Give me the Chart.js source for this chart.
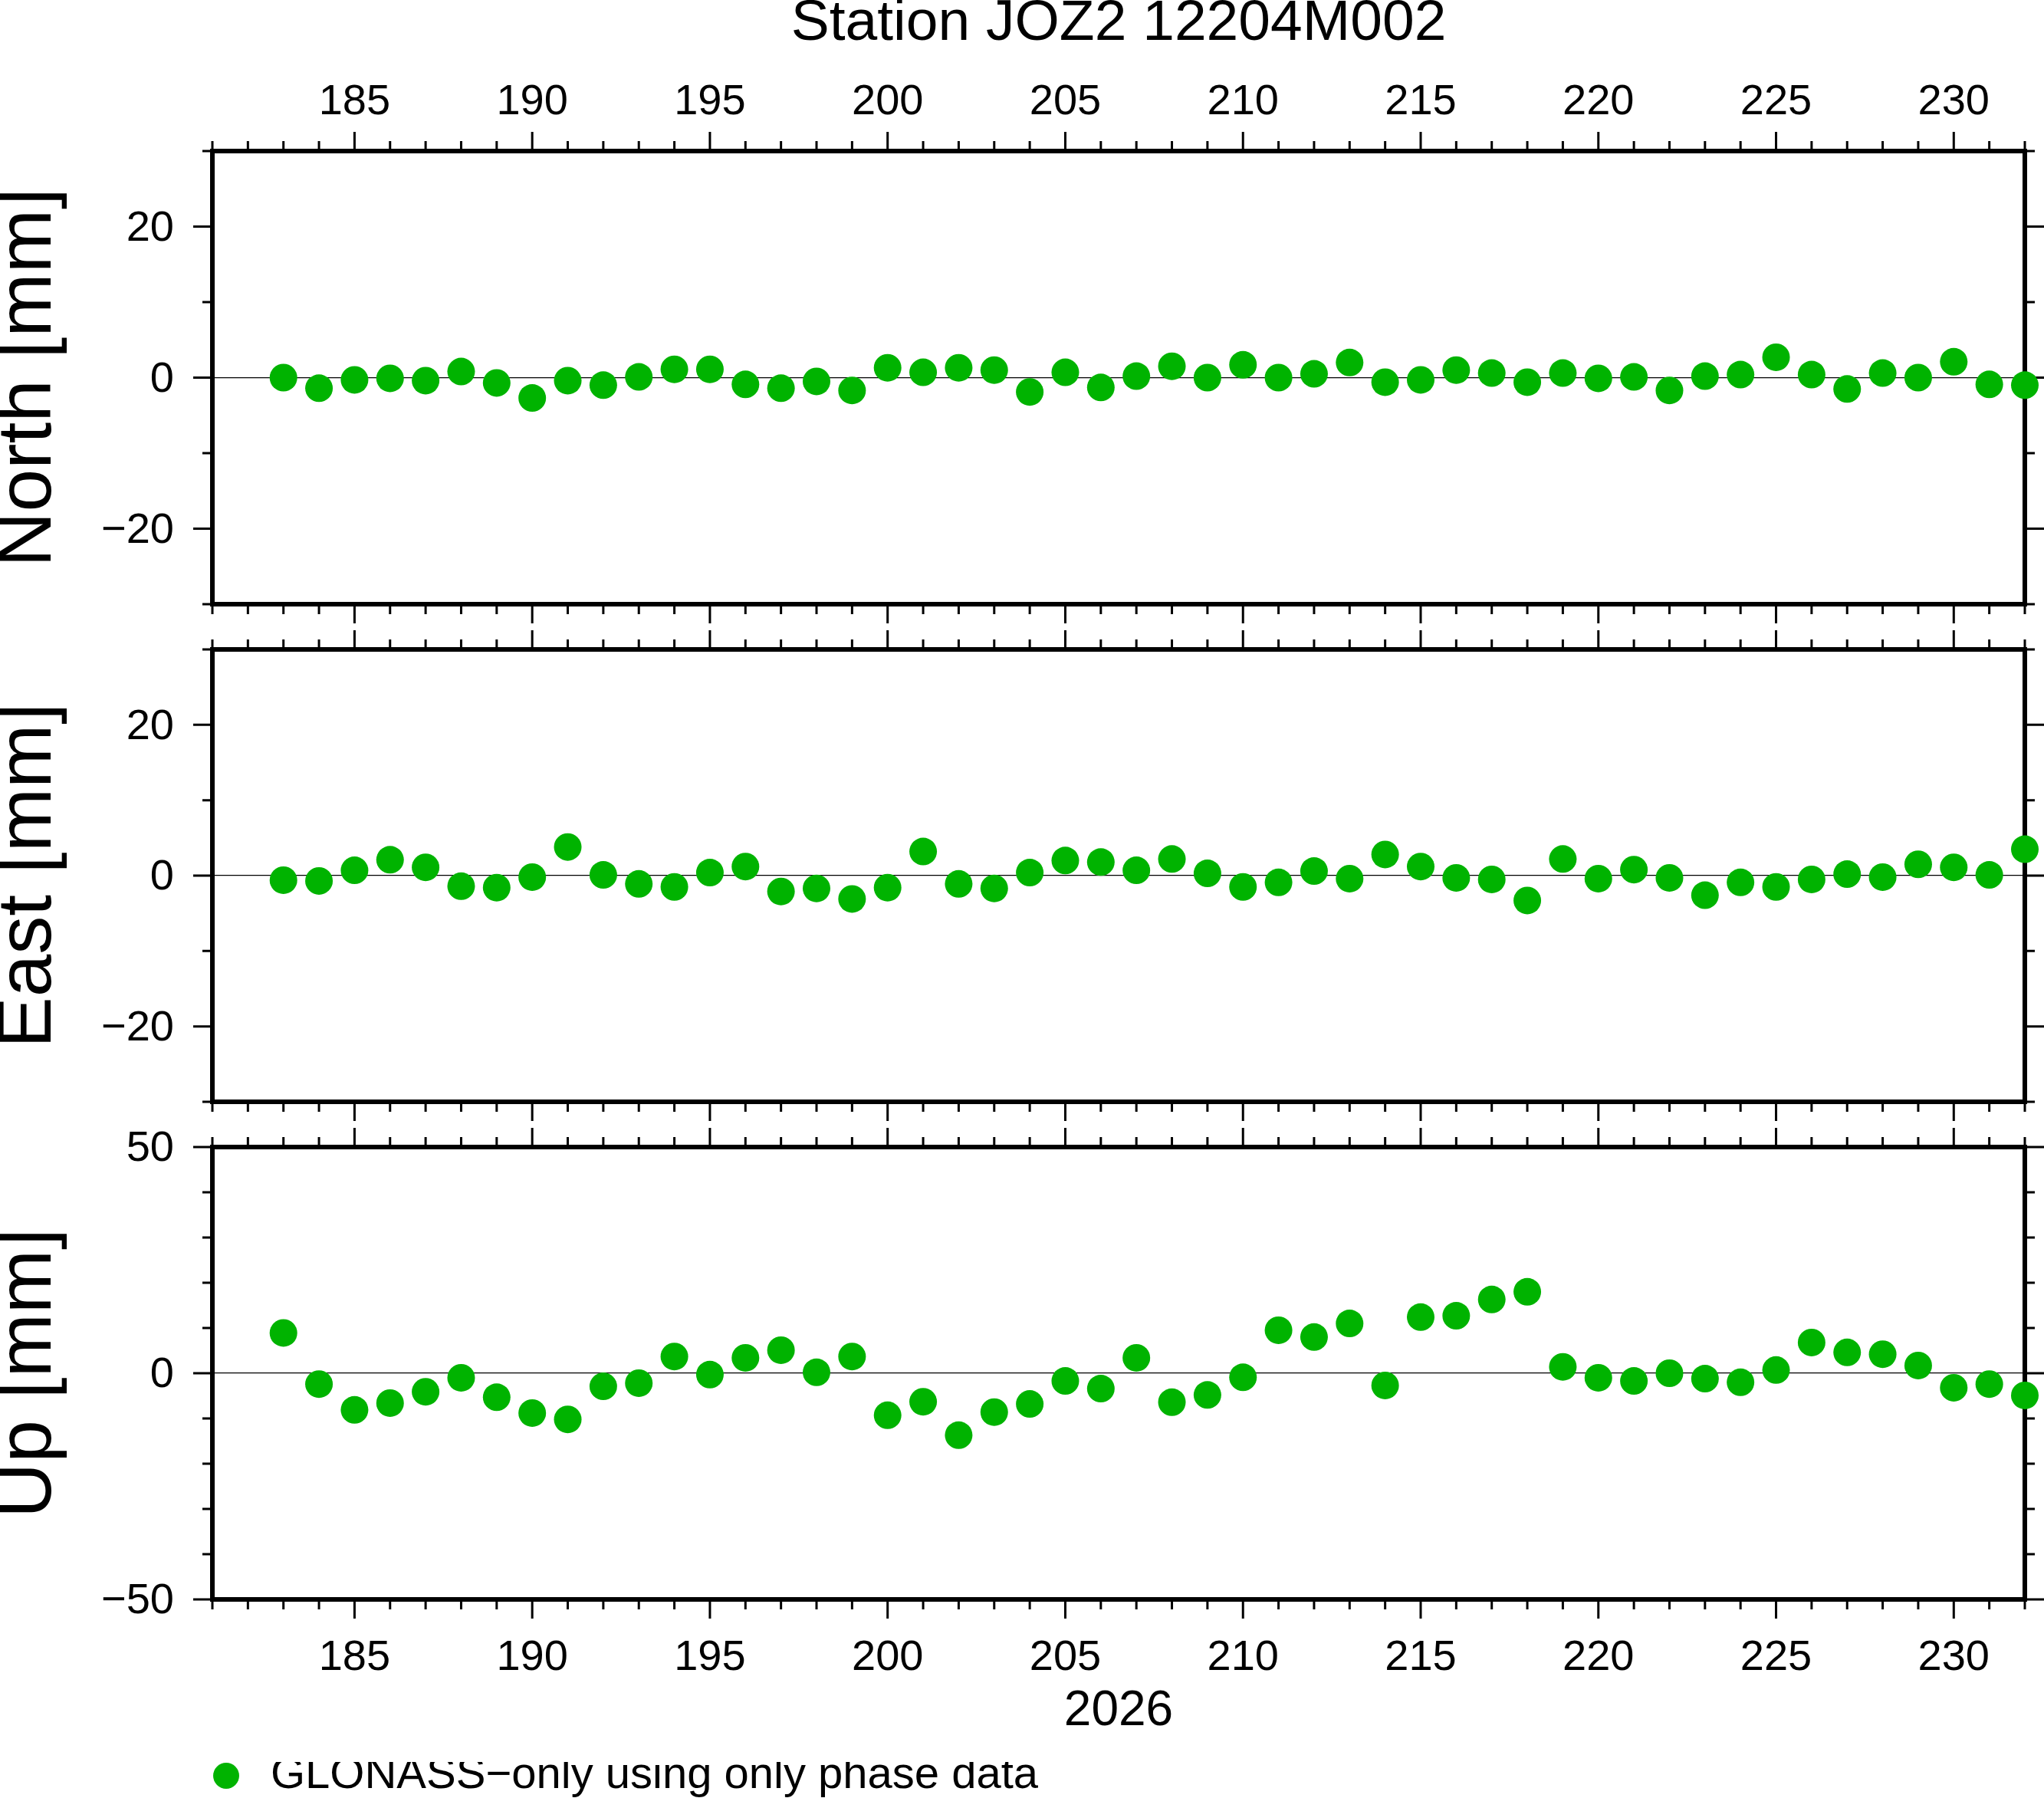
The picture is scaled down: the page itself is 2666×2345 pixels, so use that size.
<!DOCTYPE html>
<html>
<head>
<meta charset="utf-8">
<script src="https://cdn.jsdelivr.net/npm/chart.js@4.4.1/dist/chart.umd.min.js"></script>
<style>
html, body { margin: 0; padding: 0; background: #fff; overflow: hidden; }
#page { position: relative; width: 2666px; height: 2345px; background: #fff; overflow: hidden; }
canvas { position: absolute; left: 0; }
</style>
</head>
<body>
<div id="page">
  <canvas id="cNorth" width="2666" height="822" style="top:0px"></canvas>
  <canvas id="cEast" width="2666" height="645" style="top:822px"></canvas>
  <canvas id="cUp" width="2666" height="888" style="top:1467px"></canvas>
</div>
<script>
// ******************* DATA (day of year 2026, residuals in mm) *******************

const days = [183, 184, 185, 186, 187, 188, 189, 190, 191, 192,
              193, 194, 195, 196, 197, 198, 199, 200, 201, 202,
              203, 204, 205, 206, 207, 208, 209, 210, 211, 212,
              213, 214, 215, 216, 217, 218, 219, 220, 221, 222,
              223, 224, 225, 226, 227, 228, 229, 230, 231, 232]

const north = [0.0, -1.4, -0.3, -0.1, -0.4, 0.8, -0.7, -2.7, -0.4, -1.0,
               0.1, 1.1, 1.1, -0.9, -1.4, -0.5, -1.7, 1.3, 0.7, 1.3,
               1.0, -1.9, 0.7, -1.3, 0.2, 1.5, 0.0, 1.7, 0.0, 0.5,
               2.0, -0.6, -0.3, 1.0, 0.6, -0.6, 0.6, -0.1, 0.1, -1.7,
               0.2, 0.4, 2.7, 0.4, -1.5, 0.6, 0.0, 2.1, -0.9, -1.0]

const east = [-0.6, -0.7, 0.7, 2.1, 1.1, -1.4, -1.6, -0.2, 3.8, 0.1,
              -1.1, -1.5, 0.4, 1.2, -2.1, -1.7, -3.1, -1.6, 3.2, -1.1,
              -1.7, 0.4, 2.0, 1.8, 0.7, 2.2, 0.3, -1.5, -0.9, 0.6,
              -0.4, 2.8, 1.2, -0.3, -0.5, -3.3, 2.2, -0.4, 0.8, -0.3,
              -2.6, -0.9, -1.5, -0.5, 0.2, -0.2, 1.5, 1.1, 0.1, 3.5]

const up = [8.9, -2.4, -8.1, -6.6, -4.1, -1.0, -5.3, -8.8, -10.2, -2.9,
            -2.2, 3.7, -0.3, 3.4, 5.1, 0.2, 3.7, -9.3, -6.3, -13.7,
            -8.6, -6.8, -1.7, -3.4, 3.4, -6.4, -4.8, -0.9, 9.5, 8.0,
            11.0, -2.7, 12.4, 12.7, 16.3, 18.0, 1.4, -1.0, -1.7, 0.0,
            -1.2, -2.0, 0.7, 6.8, 4.6, 4.2, 1.7, -3.2, -2.4, -4.9]

const seriesName = 'GLONASS\u2212only using only phase data'
const chartTitle = 'Station JOZ2 12204M002'
const yearLabel = '2026'

// ********************************************************************************

const green = '#00b300'
Chart.defaults.font.family = "'Liberation Sans', Arial, Helvetica, sans-serif"
Chart.defaults.color = '#000'

let minus = v => v < 0 ? '\u2212' + Math.abs(v) : String(v)

// frame and the GMT style ticks (outside, on all four sides)
const frame = {
    id: 'frame',
    beforeDatasetsDraw(chart, args, opts) {
        const { ctx, chartArea: a } = chart
        const x = chart.scales.x
        const y = chart.scales.y
        ctx.save()
        ctx.strokeStyle = '#000'
        ctx.lineWidth = 3
        ctx.beginPath()
        for (let d = x.min; d <= x.max; d++) {
            let px = x.getPixelForValue(d)
            let len = d % 5 === 0 ? 25 : 13
            ctx.moveTo(px, a.top)
            ctx.lineTo(px, a.top - len)
            ctx.moveTo(px, a.bottom)
            ctx.lineTo(px, a.bottom + len)
        }
        for (let v = y.min; v <= y.max; v += 10) {
            let py = y.getPixelForValue(v)
            let len = v % opts.major === 0 ? 25 : 13
            ctx.moveTo(a.left, py)
            ctx.lineTo(a.left - len, py)
            ctx.moveTo(a.right, py)
            ctx.lineTo(a.right + len, py)
        }
        ctx.stroke()
        ctx.lineWidth = 6
        ctx.strokeRect(a.left, a.top, a.right - a.left, a.bottom - a.top)
        ctx.restore()
    }
}

function makePanel(id, values, cfg) {
    let pontos = days.map((d, i) => ({ x: d, y: values[i] }))

    let xScale = {
        type: 'linear',
        min: 181,
        max: 232,
        display: cfg.xPos !== 'none',
        position: cfg.xPos === 'none' ? 'bottom' : cfg.xPos,
        grid: { display: false, drawTicks: false },
        border: { display: false },
        ticks: {
            stepSize: 5,
            includeBounds: false,
            autoSkip: false,
            maxRotation: 0,
            padding: cfg.xPos === 'top' ? 30 : 43,
            font: { size: 56 }
        },
        afterFit: s => { s.height = cfg.xHeight }
    }
    if (cfg.xTitle) {
        xScale.title = {
            display: true,
            text: cfg.xTitle,
            font: { size: 64, lineHeight: 1 },
            padding: { top: 0, bottom: 34 }
        }
    }

    return new Chart(document.getElementById(id), {
        type: 'scatter',
        data: {
            datasets: [{
                label: seriesName,
                data: pontos,
                backgroundColor: green,
                borderWidth: 0,
                pointRadius: 18,
                pointHoverRadius: 18,
                clip: false
            }]
        },
        options: {
            responsive: false,
            animation: false,
            devicePixelRatio: 1,
            events: [],
            layout: { padding: { left: 0, right: 25, top: cfg.padTop, bottom: cfg.padBottom } },
            plugins: {
                tooltip: { enabled: false },
                frame: { major: cfg.major },
                title: {
                    display: !!cfg.title,
                    text: cfg.title || '',
                    fullSize: false,
                    padding: 0,
                    font: { size: 75, weight: 'normal', lineHeight: 0.83 }
                },
                legend: {
                    display: !!cfg.legend,
                    position: 'bottom',
                    align: 'start',
                    fullSize: false,
                    labels: {
                        usePointStyle: true,
                        pointStyle: 'circle',
                        boxWidth: 58,
                        boxHeight: 24,
                        padding: -11,
                        font: { size: 58 }
                    }
                }
            },
            scales: {
                x: xScale,
                y: {
                    min: cfg.yMin,
                    max: cfg.yMax,
                    grid: {
                        drawTicks: true,
                        tickLength: 50,
                        tickColor: 'rgba(0,0,0,0)',
                        lineWidth: 1.2,
                        color: c => (c.tick && c.tick.value === 0) ? '#000' : 'rgba(0,0,0,0)'
                    },
                    border: { display: false },
                    ticks: {
                        stepSize: 10,
                        autoSkip: false,
                        padding: 0,
                        labelOffset: 3,
                        font: { size: 56, lineHeight: 0.8 },
                        callback: v => v % cfg.major === 0 ? minus(v) : ''
                    },
                    title: {
                        display: true,
                        text: cfg.yTitle,
                        padding: 0,
                        font: { size: 100, lineHeight: 0.76 }
                    },
                    afterFit: s => { s.width = 277 }
                }
            }
        },
        plugins: [frame]
    })
}

makePanel('cNorth', north, {
    title: chartTitle, xPos: 'top', xHeight: 134.75,
    padTop: 0, padBottom: 34, yMin: -30, yMax: 30, major: 20, yTitle: 'North [mm]'
})

makePanel('cEast', east, {
    xPos: 'none', xHeight: 0,
    padTop: 25, padBottom: 30, yMin: -30, yMax: 30, major: 20, yTitle: 'East [mm]'
})

makePanel('cUp', up, {
    xPos: 'bottom', xHeight: 212, xTitle: yearLabel, legend: true,
    padTop: 29, padBottom: 0, yMin: -50, yMax: 50, major: 50, yTitle: 'Up [mm]'
})
</script>
</body>
</html>
